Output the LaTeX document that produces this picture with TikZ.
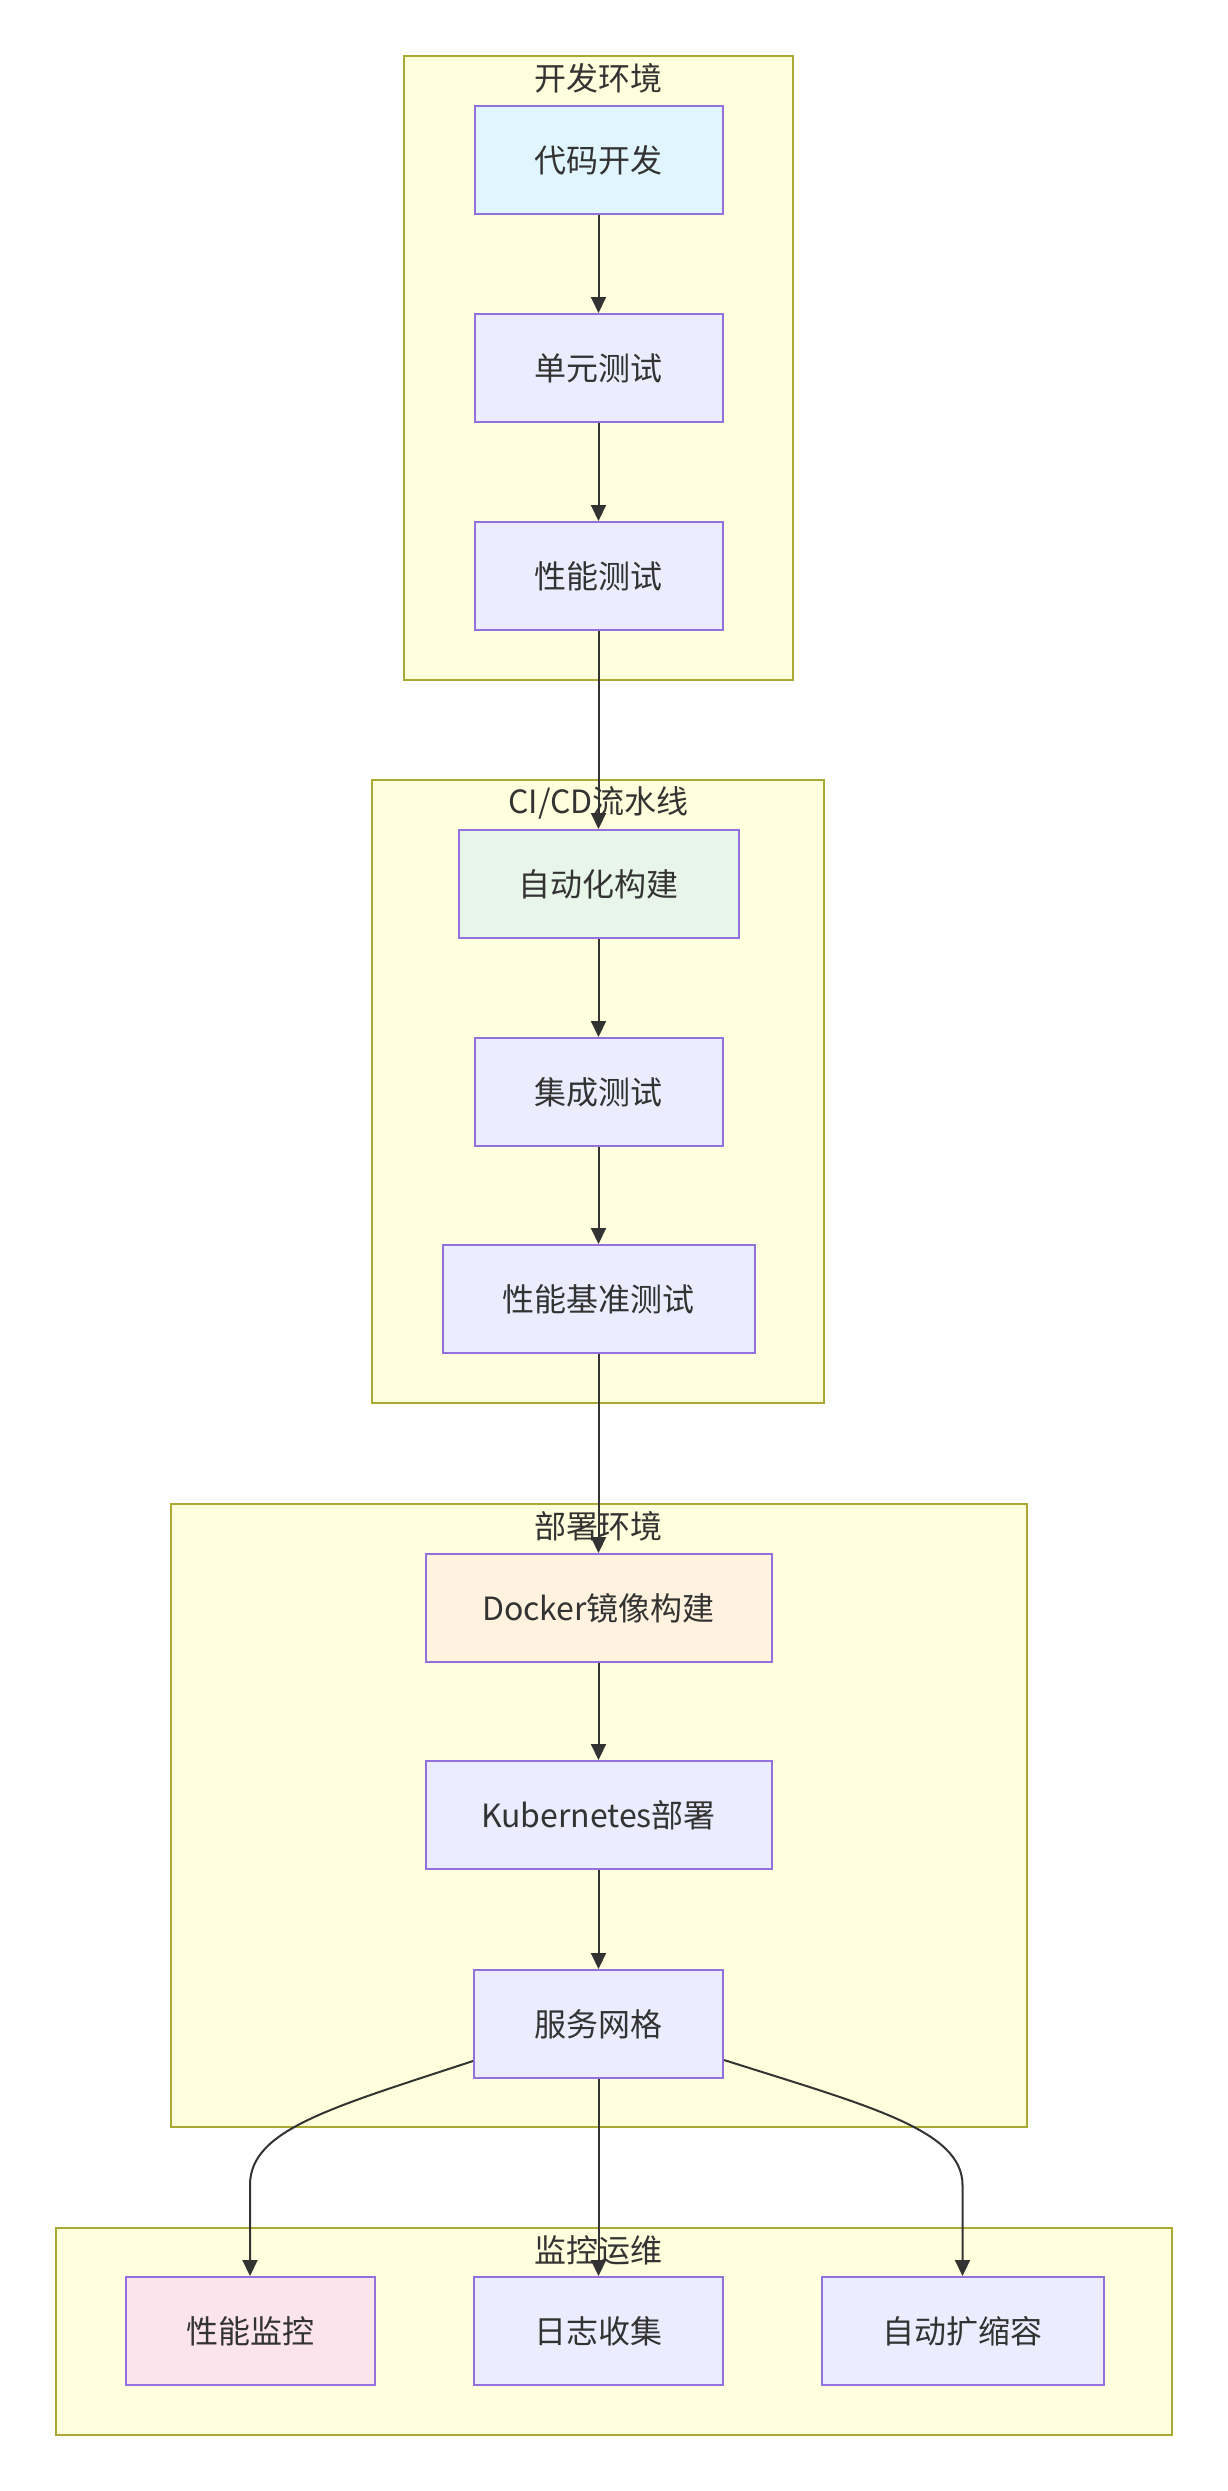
\documentclass[tikz,border=0pt]{standalone}
\usepackage{fontspec}
\setmainfont{Noto Sans CJK SC}
\usetikzlibrary{arrows.meta,calc}
\definecolor{clfill}{HTML}{FFFFDE}
\definecolor{clline}{HTML}{AAAA33}
\definecolor{ndfill}{HTML}{ECECFF}
\definecolor{ndline}{HTML}{9370DB}
\definecolor{txt}{HTML}{333333}
\definecolor{blueA}{HTML}{E1F5FE}
\definecolor{greenA}{HTML}{E8F5E9}
\definecolor{orangeA}{HTML}{FFF3E0}
\definecolor{pinkA}{HTML}{FCE4EC}
\begin{document}
\begin{tikzpicture}[x=1pt,y=-1pt,
  cluster/.style={draw=clline, fill=clfill, line width=2pt},
  ctitle/.style={text=txt, font=\fontsize{32}{38}\selectfont, inner sep=0pt},
  box/.style={draw=ndline, fill=ndfill, line width=2pt, text=txt, font=\fontsize{32}{38}\selectfont, minimum height=108pt, inner sep=0pt},
  flow/.style={draw=txt, line width=2pt, -{Triangle[length=16pt,width=15pt]}}]
\useasboundingbox[fill=white] (0,0) rectangle (1227,2491);

% clusters
\draw[cluster] (404,56) rectangle (793,680);
\node[ctitle] (t1) at (598.5,78) {开发环境};
\draw[cluster] (372,780) rectangle (824,1403);
\node[ctitle] (t2) at (598.5,803) {CI/CD流水线};
\draw[cluster] (171,1504) rectangle (1027,2127);
\node[ctitle] (t3) at (598.5,1526) {部署环境};
\draw[cluster] (56,2228) rectangle (1172,2435);
\node[ctitle] (t4) at (598.5,2250) {监控运维};

% nodes
\node[box, fill=blueA, minimum width=248pt] (A) at (598.5,160) {代码开发};
\node[box, minimum width=248pt] (B) at (598.5,368) {单元测试};
\node[box, minimum width=248pt] (C) at (598.5,576) {性能测试};
\node[box, fill=greenA, minimum width=280pt] (D) at (598.5,884) {自动化构建};
\node[box, minimum width=248pt] (E) at (598.5,1092) {集成测试};
\node[box, minimum width=312pt] (F) at (598.5,1299) {性能基准测试};
\node[box, fill=orangeA, minimum width=346pt] (G) at (598.5,1608) {Docker镜像构建};
\node[box, minimum width=346pt] (H) at (598.5,1815) {Kubernetes部署};
\node[box, minimum width=249pt] (I) at (598.5,2024) {服务网格};
\node[box, fill=pinkA, minimum width=249pt] (J) at (250,2331) {性能监控};
\node[box, minimum width=249pt] (K) at (598.5,2331) {日志收集};
\node[box, minimum width=282pt] (L) at (962.5,2331) {自动扩缩容};

% edges
\draw[flow] (A) -- (B);
\draw[flow] (B) -- (C);
\draw[flow] (C) -- (D);
\draw[flow] (D) -- (E);
\draw[flow] (E) -- (F);
\draw[flow] (F) -- (G);
\draw[flow] (G) -- (H);
\draw[flow] (H) -- (I);
\draw[flow] (I) -- (K);
\draw[flow] ([yshift=-37pt]I.west) .. controls (330,2108) and (250,2130) .. (250,2185) -- (J.north);
\draw[flow] ([yshift=-36pt]I.east) .. controls (869,2106) and (962.5,2130) .. (962.5,2185) -- (L.north);
\end{tikzpicture}
\end{document}
